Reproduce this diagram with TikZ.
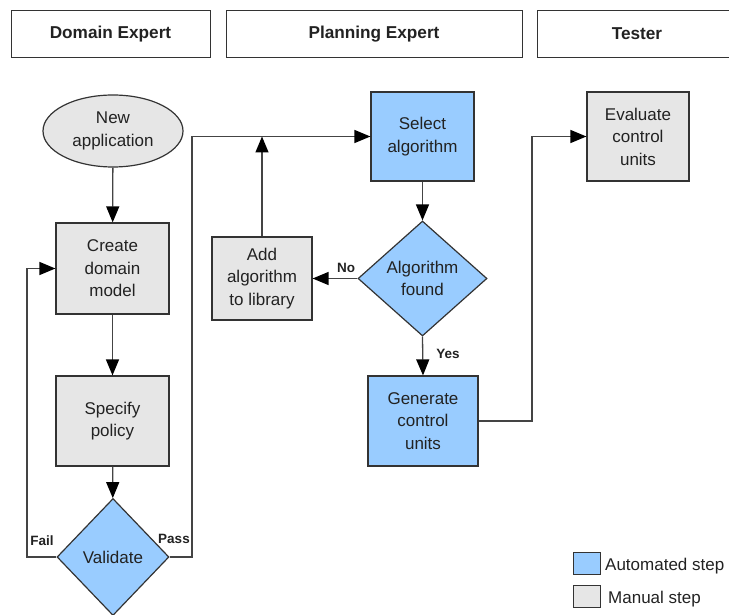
\documentclass[tikz,border=0pt]{standalone}
\usepackage{fontspec}
\setmainfont{Liberation Sans}
\usetikzlibrary{shapes.geometric,arrows.meta}
\definecolor{autoblue}{HTML}{99CCFF}
\definecolor{mangray}{HTML}{E6E6E6}
\definecolor{edge}{HTML}{333333}
\definecolor{txt}{HTML}{222222}
\definecolor{wire}{HTML}{444444}
\tikzset{
  body/.style={font=\fontsize{17}{22.5}\selectfont, text=txt, align=center, inner sep=0pt},
  header/.style={draw=edge, line width=1pt, font=\bfseries\fontsize{17.2}{20}\selectfont, text=txt, inner sep=0pt},
  manualbox/.style={body, draw=edge, fill=mangray, line width=1.2pt, rectangle},
  autobox/.style={body, draw=edge, fill=autoblue, line width=1.2pt, rectangle},
  autodiamond/.style={body, draw=edge, fill=autoblue, line width=1.2pt, diamond},
  flow/.style={draw=wire, line width=1.3pt, -{Triangle[length=16pt,width=13pt,color=black]}},
  plain/.style={draw=wire, line width=1.3pt},
  lab/.style={font=\bfseries\fontsize{13.5}{15}\selectfont, text=txt, inner sep=0pt}
}
\begin{document}
\begin{tikzpicture}[x=1pt,y=-1pt]
\useasboundingbox (0,0) rectangle (729,615);
% headers
\node[header, minimum width=199, minimum height=47] (hdom) at (110.5,34) {Domain Expert};
\node[header, minimum width=296, minimum height=47] (hplan) at (374,34) {Planning Expert};
\node[header, minimum width=200, minimum height=47] (htest) at (637,34) {Tester};
% nodes
\node[body, ellipse, draw=edge, fill=mangray, line width=1.2pt, minimum width=140, minimum height=72] (newapp) at (113,131) {New\\application};
\node[manualbox, minimum width=113, minimum height=91] (create) at (112.5,268.5) {Create\\domain\\model};
\node[manualbox, minimum width=113, minimum height=90] (specify) at (112.5,421) {Specify\\policy};
\node[autodiamond, minimum width=112, minimum height=117] (validate) at (113,557) {Validate};
\node[autobox, minimum width=103, minimum height=89] (select) at (422.5,136.5) {Select\\algorithm};
\node[manualbox, minimum width=100, minimum height=83] (addalg) at (262,278.5) {Add\\algorithm\\to library};
\node[autodiamond, minimum width=129, minimum height=115] (algfound) at (422.5,278.5) {Algorithm\\found};
\node[autobox, minimum width=110, minimum height=90] (generate) at (423,421) {Generate\\control\\units};
\node[manualbox, minimum width=102, minimum height=89] (evaluate) at (638,136.5) {Evaluate\\control\\units};
% connectors
\draw[flow] (newapp) -- (create);
\draw[flow] (create) -- (specify);
\draw[flow] (specify) -- (validate);
\coordinate (failturn) at (27,557);
\draw[flow] (validate.west) -- (failturn) |- (create.west);
\coordinate (passturn) at (192,557);
\draw[flow] (validate.east) -- (passturn) |- (select.west);
\coordinate (join) at (262,136.5);
\draw[flow] (addalg.north) -- (join);
\draw[flow] (select) -- (algfound);
\draw[flow] (algfound.west) -- (addalg.east);
\draw[flow] (algfound.south) -- (generate.north);
\coordinate (genturn) at (532,421);
\draw[flow] (generate.east) -- (genturn) |- (evaluate.west);
% labels
\node[lab] (fail) at (42,541) {Fail};
\node[lab] (pass) at (174,539) {Pass};
\node[lab] (no) at (346,268) {No};
\node[lab] (yes) at (448,354) {Yes};
% legend
\node[autobox, minimum width=27, minimum height=22, line width=1pt] (legauto) at (586.5,563) {};
\node[manualbox, minimum width=27, minimum height=22, line width=1pt] (legman) at (586.5,596) {};
\node[body, anchor=west] (legautotxt) at (605,566) {Automated step};
\node[body, anchor=west] (legmantxt) at (608,599) {Manual step};
\end{tikzpicture}
\end{document}
